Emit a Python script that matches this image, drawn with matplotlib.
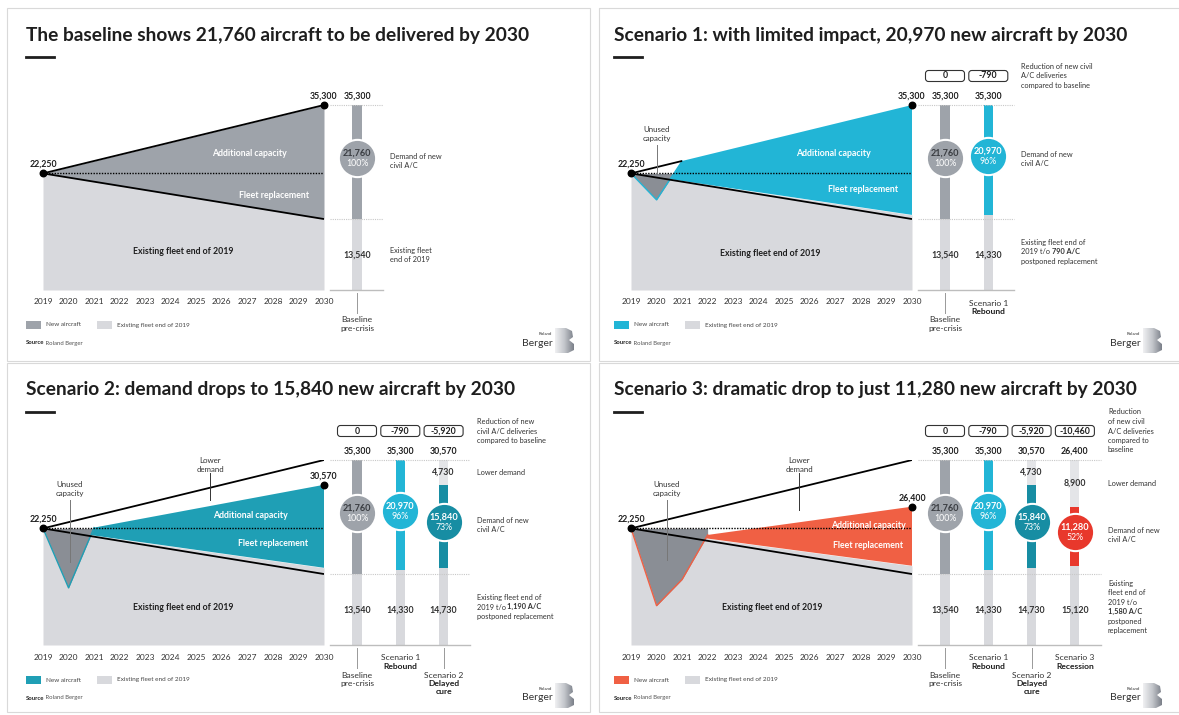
import numpy as np
import matplotlib.pyplot as plt
from matplotlib.patches import FancyBboxPatch, Rectangle, Polygon
from matplotlib.colors import LinearSegmentedColormap

plt.rcParams['font.family'] = ['Lato', 'DejaVu Sans']

W, H = 1179, 715

# Fleet numbers (aircraft)
fleet_2019 = 22250
baseline_2030 = 35300
existing_2030 = 13540
year_labels = [str(y) for y in range(2019, 2031)]

titles = [
    'The baseline shows 21,760 aircraft to be delivered by 2030',
    'Scenario 1: with limited impact, 20,970 new aircraft by 2030',
    'Scenario 2: demand drops to 15,840 new aircraft by 2030',
    'Scenario 3: dramatic drop to just 11,280 new aircraft by 2030',
]

# One column per scenario on the right-hand side
bar_names = ['Baseline', 'Scenario 1', 'Scenario 2', 'Scenario 3']
bar_tags = ['pre-crisis', 'Rebound', 'Delayed\ncure', 'Recession']
total_2030 = [35300, 35300, 30570, 26400]
existing_fleet = [13540, 14330, 14730, 15120]
new_aircraft = [21760, 20970, 15840, 11280]
share_pct = [100, 96, 73, 52]
reduction = [0, -790, -5920, -10460]
postponed = [0, 790, 1190, 1580]

# Demand path through the crisis years
dip_years = [None, [2019, 2020, 2021], [2019, 2020, 2021], [2019, 2020, 2021, 2022]]
dip_values = [None, [22250, 17200, 24620], [22250, 10900, 22400], [22250, 7500, 12500, 21000]]

# colours
GREY = '#9ea3aa'
LIGHT = '#d8d9dd'
PALE = '#e4e5e8'
UNUSED = '#8a8e95'
DARK = '#1e1e1e'
area_colors = [GREY, '#22b5d6', '#1f9fb5', '#f06044']
bar_colors = [GREY, '#22b5d6', '#178da3', '#e8382c']

offsets = [(0, 0), (588, 0), (0, 355), (588, 355)]

fig = plt.figure(figsize=(W / 100, H / 100), dpi=100)
ax0 = fig.add_axes([0, 0, 1, 1])
ax0.set_xlim(0, W)
ax0.set_ylim(H, 0)
ax0.set_autoscale_on(False)
ax0.axis('off')
ax0.set_zorder(10)


def px_axes(l, t, r, b):
    return fig.add_axes([l / W, 1 - b / H, (r - l) / W, (b - t) / H])


def col_x(k, i):
    return offsets[k][0] + 357 + 43.3 * i


def text_lines(x, y, lines, size=5.3, pitch=9.5, color='#333'):
    # lines: list of lists of (text, bold) runs, centred vertically on y
    y0 = y - (len(lines) - 1) * pitch / 2
    for j, runs in enumerate(lines):
        prev = None
        for s, b in runs:
            w = 'bold' if b else 'normal'
            if prev is None:
                prev = ax0.text(x, y0 + j * pitch, s, fontsize=size, fontweight=w,
                                color=color, ha='left', va='center')
            else:
                prev = ax0.annotate(s, xy=(1, 0), xycoords=prev, fontsize=size,
                                    fontweight=w, color=color, ha='left', va='bottom')


def logo(ox, oy):
    ax0.text(ox + 553, oy + 343, 'Berger', fontsize=7.5, color='#333', ha='right', va='center')
    ax0.text(ox + 552, oy + 334, 'Roland', fontsize=3.2, color='#333', ha='right', va='center')
    pts = [(555, 328), (566, 328), (572, 331), (573, 337), (569, 340), (574, 344),
           (574, 350), (568, 353), (555, 353)]
    poly = Polygon([(ox + a, oy + b) for a, b in pts], closed=True,
                   facecolor='none', edgecolor='none')
    ax0.add_patch(poly)
    cmap = LinearSegmentedColormap.from_list('rb', ['#f0f0f2', '#c3c6cb', '#7b8089'])
    im = ax0.imshow(np.linspace(0, 1, 60).reshape(1, -1), cmap=cmap, aspect='auto',
                    extent=(ox + 555, ox + 574, oy + 353, oy + 328), zorder=3)
    im.set_clip_path(poly)


# panel frames
for (ox, oy) in offsets:
    ax0.add_patch(Rectangle((ox + 7 + (4 if ox else 0), oy + 8),
                            583, 353 if oy == 0 else 349, fill=False,
                            edgecolor='#d9d9d9', lw=0.8))

for k in range(4):
    ox, oy = offsets[k]

    # title
    ax0.text(ox + 26, oy + 35, titles[k], fontsize=13.8, fontweight='bold',
             color=DARK, ha='left', va='center')
    ax0.plot([ox + 26, ox + 54], [oy + 57, oy + 57], color=DARK, lw=2)

    # ---- area chart ----
    ax = px_axes(ox + 43, oy + 105, ox + 324, oy + 290)
    ax.set_xlim(2019, 2030)
    ax.set_ylim(0, baseline_2030)
    ax.axis('off')

    e_end = existing_fleet[k]
    ax.fill_between([2019, 2030], 0, [fleet_2019, e_end], color=LIGHT, lw=0)
    if k == 0:
        ax.fill_between([2019, 2030], [fleet_2019, existing_2030],
                        [fleet_2019, baseline_2030], color=area_colors[0], lw=0)
        upper_end = 2030
    else:
        dx = np.array(dip_years[k] + [2030], float)
        dv = np.array(dip_values[k] + [total_2030[k]], float)
        sv = np.interp(dx, [2019, 2030], [fleet_2019, e_end])
        ax.fill_between(dx, sv, dv, where=dv >= sv, interpolate=True,
                        color=area_colors[k], lw=0)
        ux = np.array(dip_years[k], float)
        uv = np.array(dip_values[k], float)
        ax.fill_between(ux, uv, fleet_2019, where=uv <= fleet_2019, interpolate=True,
                        color=UNUSED, lw=0)
        ax.plot(ux, uv, color=area_colors[k], lw=1)
        upper_end = 2030 if total_2030[k] < baseline_2030 else dip_years[k][-1]

    up_x = [2019, upper_end]
    ax.plot(up_x, np.interp(up_x, [2019, 2030], [fleet_2019, baseline_2030]),
            color='k', lw=1.3, solid_capstyle='butt')
    ax.plot([2019, 2030], [fleet_2019, existing_2030], color='k', lw=1.3,
            solid_capstyle='butt')
    ax.plot([2019, 2030], [fleet_2019, fleet_2019], color='k', lw=1,
            ls=(0, (1, 1)))
    ax.scatter([2019, 2030], [fleet_2019, total_2030[k]], s=22, color='k',
               zorder=5, clip_on=False)
    ax.annotate(f'{fleet_2019:,}', xy=(2019, fleet_2019), xytext=(0, 9),
                textcoords='offset pixels', ha='center', va='center',
                fontsize=6.3, fontweight='bold', color=DARK)
    ax.annotate(f'{total_2030[k]:,}', xy=(2030, total_2030[k]), xytext=(0, 9),
                textcoords='offset pixels', ha='center', va='center',
                fontsize=6.3, fontweight='bold', color=DARK)

    # in-chart labels
    lab_pos = [((249, 153), (274, 195), (183, 251)),
               ((245, 153), (275, 190), (182, 253)),
               ((250, 161), (273, 188), (183, 252)),
               ((280, 170), (280, 190), (184, 252))][k]
    for (tx, ty), s, c in zip(lab_pos, ['Additional capacity', 'Fleet replacement',
                                        'Existing fleet end of 2019'],
                              ['white', 'white', DARK]):
        ax0.text(ox + tx, oy + ty, s, fontsize=6.3, fontweight='bold', color=c,
                 ha='center', va='center')

    if k > 0:
        unused_x = [69, 69, 70, 79][k]
        unused_bot = [0, 173, 207, 205][k]
        ax0.text(ox + unused_x, oy + 134, 'Unused\ncapacity', fontsize=5.7, color='#333',
                 ha='center', va='center', linespacing=1.2)
        ax0.plot([ox + unused_x] * 2, [oy + 145, oy + unused_bot], color='#777', lw=0.7)
    if k > 1:
        low_x = [0, 0, 210, 211][k]
        low_bot = [0, 0, 145, 155][k]
        ax0.text(ox + low_x, oy + 110, 'Lower\ndemand', fontsize=5.7, color='#333',
                 ha='center', va='center', linespacing=1.2)
        ax0.plot([ox + low_x] * 2, [oy + 118, oy + low_bot], color='#333', lw=0.7)

    # years
    for j, yl in enumerate(year_labels):
        ax0.text(ox + 43 + j * 281 / 11, oy + 302, yl, fontsize=6, color='#333',
                 ha='center', va='center')

    # ---- columns ----
    bx_lo = (330 - 357) / 43.3
    bx_hi = k + 0.6
    bax = px_axes(ox + 330, oy + 105, ox + 357 + 43.3 * bx_hi, oy + 290)
    bax.set_xlim(bx_lo, bx_hi)
    bax.set_ylim(0, baseline_2030)
    bax.axis('off')
    bax.plot([bx_lo, bx_hi], [baseline_2030] * 2, color='#c8c8c8', lw=0.8, ls=(0, (1, 1)),
             clip_on=False)
    bax.plot([bx_lo, bx_hi], [existing_2030] * 2, color='#c8c8c8', lw=0.8, ls=(0, (1, 1)),
             clip_on=False)
    bax.plot([bx_lo, bx_hi], [0, 0], color='#bdbdbd', lw=1, clip_on=False)

    for i in range(k + 1):
        bw = 0.21
        bax.bar(i, existing_fleet[i], width=bw, color=LIGHT, lw=0)
        bax.bar(i, new_aircraft[i], bottom=existing_fleet[i], width=bw,
                color=bar_colors[i], lw=0)
        gap = baseline_2030 - total_2030[i]
        if gap > 0:
            bax.bar(i, gap, bottom=total_2030[i], width=bw, color=PALE, lw=0)
            bax.annotate(f'{gap:,}', xy=(i, total_2030[i] + gap / 2), ha='center',
                         va='center', fontsize=6.3, fontweight='bold', color='#333')
        cy = existing_fleet[i] + new_aircraft[i] / 2 + 800
        bax.scatter([i], [cy], s=720, color=bar_colors[i], edgecolor='white',
                    linewidth=1.5, zorder=4, clip_on=False)
        top_c = '#3a3d42' if i == 0 else 'white'
        bax.annotate(f'{new_aircraft[i]:,}', xy=(i, cy), xytext=(0, 5),
                     textcoords='offset pixels', ha='center', va='center',
                     fontsize=6.6, fontweight='bold', color=top_c, zorder=6)
        bax.annotate(f'{share_pct[i]}%', xy=(i, cy), xytext=(0, -5.5),
                     textcoords='offset pixels', ha='center', va='center',
                     fontsize=6.3, color='white', zorder=6)
        bax.annotate(f'{total_2030[i]:,}' if i else f'{baseline_2030:,}',
                     xy=(i, baseline_2030), xytext=(0, 9),
                     textcoords='offset pixels', ha='center', va='center',
                     fontsize=6.3, fontweight='bold', color=DARK)
        bax.annotate(f'{existing_fleet[i]:,}', xy=(i, 0), xytext=(0, 35),
                     textcoords='offset pixels', ha='center', va='center',
                     fontsize=6.3, fontweight='bold', color='#333')

        cx = col_x(k, i)
        if k > 0:
            ax0.add_patch(FancyBboxPatch((cx - 19.5, oy + 70.5), 39, 11,
                                         boxstyle='round,pad=0,rounding_size=3',
                                         facecolor='white', edgecolor='#333', lw=0.8))
            ax0.text(cx, oy + 76, f'{reduction[i]:,}', fontsize=6.3, fontweight='bold',
                     color=DARK, ha='center', va='center')
        if i % 2 == 0:
            ax0.plot([cx, cx], [oy + 293, oy + 313], color='#999', lw=0.7)
            ly = oy + 320
        else:
            ly = oy + 303
        ax0.text(cx, ly, bar_names[i], fontsize=6.1, color='#333',
                 ha='center', va='center')
        ax0.text(cx, ly + 5, bar_tags[i], fontsize=6.1, color='#333' if i == 0 else DARK,
                 fontweight='normal' if i == 0 else 'bold', ha='center', va='top',
                 linespacing=1.15)

    # right-hand descriptions
    rx = col_x(k, k) + 33
    last_cy_px = oy + 290 - (existing_fleet[k] + new_aircraft[k] / 2 + 800) / baseline_2030 * 185
    if k == 0:
        text_lines(rx, last_cy_px + 3, [[('Demand of new', False)], [('civil A/C', False)]])
        text_lines(rx, oy + 255, [[('Existing fleet', False)], [('end of 2019', False)]])
    else:
        red_lines = [None,
                     ['Reduction of new civil', 'A/C deliveries', 'compared to baseline'],
                     ['Reduction of new', 'civil A/C deliveries', 'compared to baseline'],
                     ['Reduction', 'of new civil', 'A/C deliveries', 'compared to', 'baseline']][k]
        text_lines(rx, oy + 76, [[(s, False)] for s in red_lines])
        text_lines(rx, last_cy_px + 3, [[('Demand of new', False)], [('civil A/C', False)]])
        pp = f'{postponed[k]:,} A/C'
        if k < 3:
            ex_lines = [[('Existing fleet end of', False)],
                        [('2019 t/o ', False), (pp, True)],
                        [('postponed replacement', False)]]
        else:
            ex_lines = [[('Existing', False)], [('fleet end of', False)],
                        [('2019 t/o', False)], [(pp, True)],
                        [('postponed', False)], [('replacement', False)]]
        text_lines(rx, oy + 252, ex_lines)
        if k > 1:
            gap = baseline_2030 - total_2030[k]
            gy = oy + 290 - (total_2030[k] + gap / 2) / baseline_2030 * 185
            text_lines(rx, gy, [[('Lower demand', False)]])

    # legend and source
    ax0.add_patch(Rectangle((ox + 26, oy + 321), 15, 8, color=area_colors[k], lw=0))
    ax0.text(ox + 46, oy + 325, 'New aircraft', fontsize=4.6, color='#444', va='center')
    ax0.add_patch(Rectangle((ox + 97, oy + 321), 15, 8, color=LIGHT, lw=0))
    ax0.text(ox + 117, oy + 325, 'Existing fleet end of 2019', fontsize=4.6, color='#444',
             va='center')
    src = ax0.text(ox + 26, oy + 343, 'Source', fontsize=4.3, fontweight='bold',
                   color='#222', va='center')
    ax0.annotate(' Roland Berger', xy=(1, 0), xycoords=src, fontsize=4.3, color='#555',
                 va='bottom')
    logo(ox, oy)

fig.savefig('out.png', dpi=100)
